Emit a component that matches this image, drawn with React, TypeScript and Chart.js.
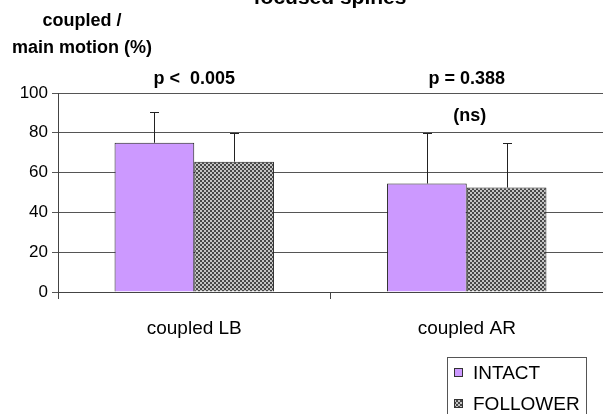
import { useEffect, useRef } from 'react';
import { Chart, registerables } from 'chart.js';

Chart.register(...registerables);

const categories = ['coupled LB', 'coupled AR'];
const intactValues = [75, 54.5];
const followerValues = [65.5, 52.5];
const intactErrors = [15.5, 25.5];
const followerErrors = [14.5, 22.5];
const yMin = 0;
const yMax = 100;
const yStep = 20;
const pLabels = ['p <  0.005', 'p = 0.388'];
const pSubLabels = ['', '(ns)'];
const legendLabels = ['INTACT', 'FOLLOWER'];
const titleText = 'focused spines';
const yTitleLines = ['coupled /', 'main motion (%)'];

const FONT = '"Liberation Sans", Arial, sans-serif';
const INTACT_COLOR = '#cc99ff';

function makePattern(): CanvasPattern | string {
  const c = document.createElement('canvas');
  c.width = 4;
  c.height = 4;
  const g = c.getContext('2d');
  if (!g) return '#888';
  g.fillStyle = '#c4c4c4';
  g.fillRect(0, 0, 4, 4);
  g.fillStyle = '#474747';
  g.fillRect(0, 0, 2, 2);
  g.fillRect(2, 2, 2, 2);
  const p = g.createPattern(c, 'repeat');
  return p || '#888';
}

export default function App() {
  const ref = useRef<HTMLCanvasElement | null>(null);

  useEffect(() => {
    if (!ref.current) return;
    const pattern = makePattern();
    const errs = [intactErrors, followerErrors];
    const vals = [intactValues, followerValues];

    const extras = {
      id: 'extras',
      afterDatasetsDraw(chart: any) {
        const ctx = chart.ctx;
        const ys = chart.scales.y;
        ctx.save();
        ctx.strokeStyle = '#222';
        ctx.lineWidth = 1;
        for (let d = 0; d < 2; d++) {
          const meta = chart.getDatasetMeta(d);
          meta.data.forEach((bar: any, j: number) => {
            const x = Math.round(bar.x) + 0.5;
            const top = Math.round(ys.getPixelForValue(vals[d][j] + errs[d][j])) + 0.5;
            const base = bar.y;
            ctx.beginPath();
            ctx.moveTo(x, base);
            ctx.lineTo(x, top);
            ctx.moveTo(x - 4.5, top);
            ctx.lineTo(x + 4.5, top);
            ctx.stroke();
          });
        }
        ctx.restore();
      },
      afterDraw(chart: any) {
        const ctx = chart.ctx;
        const xs = chart.scales.x;
        ctx.save();
        ctx.fillStyle = '#000';
        // title (cut at top)
        ctx.font = `bold 21px ${FONT}`;
        ctx.textAlign = 'center';
        ctx.textBaseline = 'alphabetic';
        ctx.fillText(titleText, 330, 4);
        // y axis title
        ctx.font = `bold 18px ${FONT}`;
        ctx.textBaseline = 'middle';
        ctx.fillText(yTitleLines[0], 82, 21);
        ctx.fillText(yTitleLines[1], 82, 48);
        // p annotations
        ctx.font = `bold 18px ${FONT}`;
        categories.forEach((_, i) => {
          const x = xs.getPixelForValue(i);
          ctx.fillText(pLabels[i], x, 79);
          if (pSubLabels[i]) ctx.fillText(pSubLabels[i], x + 3, 116);
        });
        // legend
        ctx.strokeStyle = '#555';
        ctx.lineWidth = 1;
        ctx.strokeRect(447.5, 357.5, 139, 70);
        const fills = [INTACT_COLOR, pattern];
        const ly = [373, 404];
        ctx.font = `19px ${FONT}`;
        ctx.textAlign = 'left';
        legendLabels.forEach((lab, i) => {
          ctx.fillStyle = fills[i] as any;
          ctx.fillRect(454, ly[i] - 5, 9, 9);
          ctx.strokeStyle = '#333';
          ctx.strokeRect(454.5, ly[i] - 4.5, 8, 8);
          ctx.fillStyle = '#000';
          ctx.fillText(lab, 473, ly[i] + 1);
        });
        ctx.restore();
      },
    };

    const chart = new Chart(ref.current, {
      type: 'bar',
      data: {
        labels: categories,
        datasets: [
          {
            label: legendLabels[0],
            data: intactValues,
            backgroundColor: INTACT_COLOR,
            borderColor: '#222',
            borderWidth: 1,
            categoryPercentage: 0.585,
            barPercentage: 1,
          },
          {
            label: legendLabels[1],
            data: followerValues,
            backgroundColor: pattern as any,
            borderColor: '#222',
            borderWidth: 1,
            categoryPercentage: 0.585,
            barPercentage: 1,
          },
        ],
      },
      options: {
        responsive: false,
        animation: false,
        layout: { padding: { top: 93, left: 0, right: -3, bottom: 0 } },
        plugins: {
          legend: { display: false },
          title: { display: false },
          tooltip: { enabled: false },
        },
        scales: {
          x: {
            afterFit(s: any) {
              s.height = 122;
            },
            grid: {
              display: true,
              drawOnChartArea: false,
              drawTicks: true,
              tickLength: 7,
              color: '#444',
            },
            border: { color: '#444', width: 1 },
            ticks: {
              color: '#000',
              padding: 18,
              font: { family: FONT, size: 19 },
            },
          },
          y: {
            min: yMin,
            max: yMax,
            afterFit(s: any) {
              s.width = 58;
            },
            grid: {
              color: '#555',
              tickLength: 6,
              drawTicks: true,
            },
            border: { color: '#444', width: 1 },
            ticks: {
              stepSize: yStep,
              color: '#000',
              padding: 4,
              font: { family: FONT, size: 17 },
            },
          },
        },
      },
      plugins: [extras],
    });
    return () => chart.destroy();
  }, []);

  return (
    <div style={{ position: 'fixed', left: 0, top: 0, width: 603, height: 414, background: '#fff' }}>
      <canvas ref={ref} width={603} height={414} />
    </div>
  );
}
